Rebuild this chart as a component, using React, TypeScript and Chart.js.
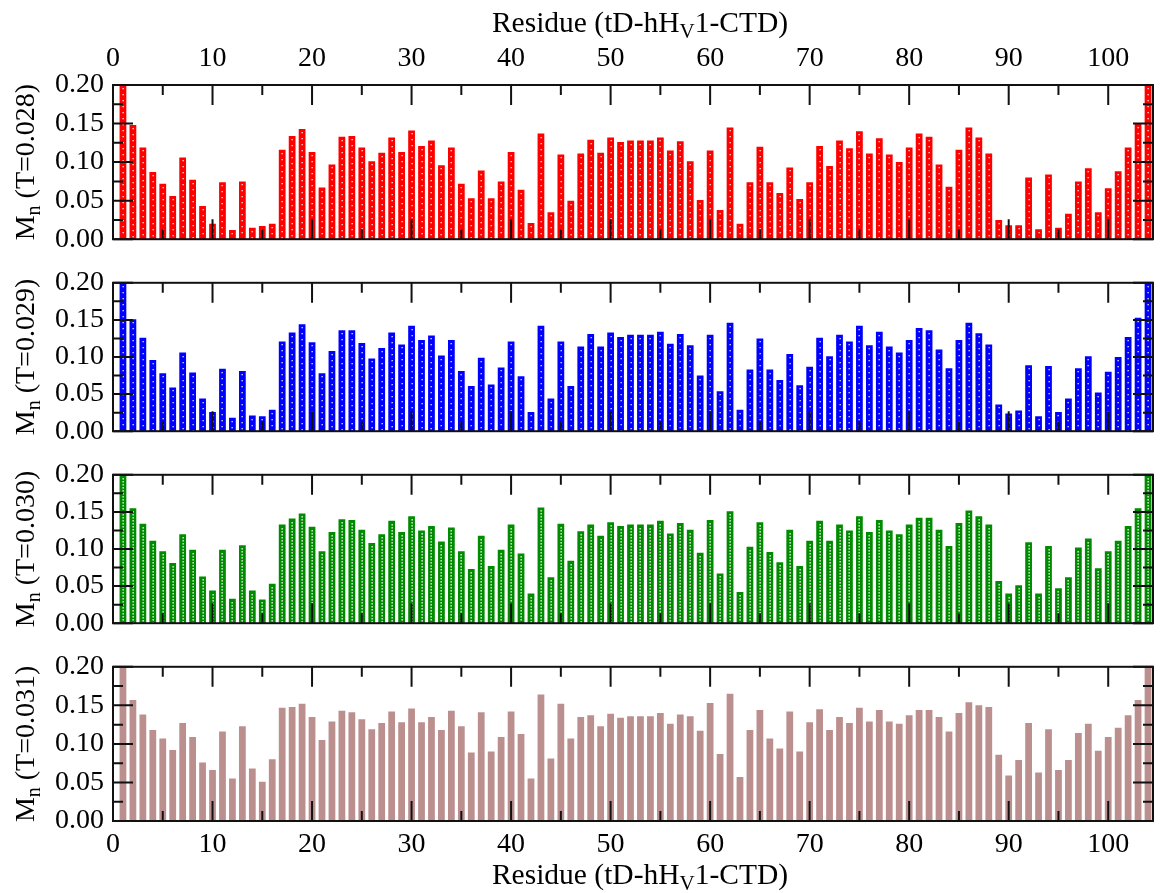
import React, { useEffect, useRef } from 'react';
import { Chart, registerables } from 'chart.js';

Chart.register(...registerables);

// ---------- data ----------
const RESIDUES = [
  1, 2, 3, 4, 5, 6, 7, 8, 9, 10, 11, 12, 13, 14, 15, 16, 17, 18, 19, 20,
  21, 22, 23, 24, 25, 26, 27, 28, 29, 30, 31, 32, 33, 34, 35, 36, 37, 38, 39, 40,
  41, 42, 43, 44, 45, 46, 47, 48, 49, 50, 51, 52, 53, 54, 55, 56, 57, 58, 59, 60,
  61, 62, 63, 64, 65, 66, 67, 68, 69, 70, 71, 72, 73, 74, 75, 76, 77, 78, 79, 80,
  81, 82, 83, 84, 85, 86, 87, 88, 89, 90, 91, 92, 93, 94, 95, 96, 97, 98, 99, 100,
  101, 102, 103, 104,
];

const MN_T028 = [
  0.200, 0.148, 0.119, 0.087, 0.072, 0.056, 0.106, 0.077, 0.043, 0.020,
  0.074, 0.012, 0.075, 0.015, 0.017, 0.020, 0.116, 0.134, 0.143, 0.113,
  0.067, 0.097, 0.133, 0.134, 0.119, 0.101, 0.112, 0.132, 0.113, 0.141,
  0.121, 0.128, 0.096, 0.119, 0.072, 0.053, 0.089, 0.053, 0.075, 0.113,
  0.064, 0.021, 0.137, 0.035, 0.110, 0.050, 0.111, 0.129, 0.112, 0.132,
  0.126, 0.128, 0.128, 0.128, 0.132, 0.115, 0.127, 0.101, 0.051, 0.115,
  0.038, 0.145, 0.020, 0.074, 0.120, 0.074, 0.060, 0.093, 0.052, 0.074,
  0.121, 0.095, 0.128, 0.118, 0.140, 0.111, 0.131, 0.110, 0.100, 0.119,
  0.137, 0.133, 0.097, 0.068, 0.116, 0.145, 0.132, 0.111, 0.025, 0.018,
  0.018, 0.080, 0.013, 0.084, 0.015, 0.033, 0.075, 0.092, 0.035, 0.066,
  0.088, 0.119, 0.150, 0.200,
];

const MN_T029 = [
  0.200, 0.151, 0.126, 0.096, 0.078, 0.059, 0.106, 0.079, 0.044, 0.026,
  0.084, 0.018, 0.081, 0.021, 0.020, 0.029, 0.121, 0.133, 0.144, 0.120,
  0.078, 0.108, 0.136, 0.136, 0.119, 0.098, 0.112, 0.133, 0.117, 0.142,
  0.123, 0.129, 0.102, 0.123, 0.081, 0.061, 0.099, 0.063, 0.086, 0.121,
  0.074, 0.026, 0.142, 0.044, 0.121, 0.061, 0.114, 0.131, 0.114, 0.133,
  0.127, 0.130, 0.130, 0.130, 0.134, 0.118, 0.131, 0.116, 0.075, 0.130,
  0.054, 0.146, 0.029, 0.083, 0.125, 0.083, 0.069, 0.104, 0.062, 0.087,
  0.126, 0.101, 0.130, 0.121, 0.142, 0.116, 0.134, 0.114, 0.106, 0.123,
  0.139, 0.136, 0.110, 0.085, 0.123, 0.146, 0.132, 0.117, 0.036, 0.024,
  0.028, 0.089, 0.020, 0.088, 0.026, 0.044, 0.085, 0.101, 0.052, 0.080,
  0.100, 0.127, 0.153, 0.200,
];

const MN_T030 = [
  0.200, 0.155, 0.134, 0.111, 0.097, 0.081, 0.120, 0.099, 0.063, 0.044,
  0.099, 0.033, 0.105, 0.044, 0.032, 0.053, 0.133, 0.141, 0.148, 0.130,
  0.097, 0.123, 0.140, 0.139, 0.126, 0.108, 0.120, 0.138, 0.123, 0.144,
  0.125, 0.131, 0.110, 0.129, 0.097, 0.073, 0.118, 0.077, 0.099, 0.133,
  0.094, 0.040, 0.156, 0.062, 0.134, 0.084, 0.124, 0.133, 0.118, 0.136,
  0.131, 0.133, 0.133, 0.133, 0.138, 0.121, 0.135, 0.126, 0.095, 0.139,
  0.067, 0.151, 0.042, 0.103, 0.136, 0.096, 0.082, 0.126, 0.077, 0.111,
  0.138, 0.111, 0.133, 0.125, 0.144, 0.123, 0.139, 0.125, 0.120, 0.133,
  0.142, 0.142, 0.126, 0.104, 0.135, 0.152, 0.144, 0.133, 0.057, 0.040,
  0.051, 0.109, 0.040, 0.104, 0.047, 0.062, 0.102, 0.114, 0.074, 0.097,
  0.111, 0.131, 0.155, 0.200,
];

const MN_T031 = [
  0.200, 0.157, 0.138, 0.118, 0.107, 0.092, 0.127, 0.109, 0.076, 0.066,
  0.116, 0.055, 0.123, 0.068, 0.051, 0.080, 0.147, 0.148, 0.152, 0.135,
  0.105, 0.129, 0.143, 0.141, 0.132, 0.119, 0.127, 0.142, 0.128, 0.146,
  0.128, 0.135, 0.118, 0.143, 0.123, 0.089, 0.141, 0.090, 0.109, 0.142,
  0.113, 0.055, 0.164, 0.081, 0.152, 0.107, 0.135, 0.137, 0.123, 0.139,
  0.134, 0.136, 0.136, 0.136, 0.140, 0.126, 0.138, 0.136, 0.117, 0.153,
  0.087, 0.165, 0.057, 0.118, 0.144, 0.107, 0.094, 0.142, 0.090, 0.128,
  0.145, 0.118, 0.135, 0.127, 0.147, 0.129, 0.144, 0.129, 0.126, 0.137,
  0.144, 0.144, 0.135, 0.116, 0.140, 0.154, 0.150, 0.148, 0.086, 0.059,
  0.079, 0.127, 0.063, 0.119, 0.066, 0.079, 0.114, 0.126, 0.091, 0.109,
  0.121, 0.137, 0.157, 0.200,
];

const TEMPERATURES = ['0.028', '0.029', '0.030', '0.031'];
const X_MIN = 0;
const X_MAX = 104.5;
const X_TICK_STEP = 10;
const Y_MIN = 0;
const Y_MAX = 0.2;
const Y_TICK_STEP = 0.05;

// ---------- styling ----------
const FONT = '"Liberation Serif", "Times New Roman", serif';
const FONT_SIZE = 28;
const TITLE_SIZE = 29.5;

type Part = { text: string; sub?: boolean };

const X_TITLE: Part[] = [
  { text: 'Residue (tD-hH' },
  { text: 'V', sub: true },
  { text: '1-CTD)' },
];

function drawRich(ctx: CanvasRenderingContext2D, parts: Part[], cx: number, cy: number, rotate: boolean, size: number) {
  const subSize = Math.round(size * 0.7);
  const widths = parts.map((p) => {
    ctx.font = `${p.sub ? subSize : size}px ${FONT}`;
    return ctx.measureText(p.text).width;
  });
  const total = widths.reduce((a, b) => a + b, 0);
  ctx.save();
  ctx.translate(cx, cy);
  if (rotate) ctx.rotate(-Math.PI / 2);
  ctx.fillStyle = '#000';
  ctx.textAlign = 'left';
  ctx.textBaseline = 'alphabetic';
  let x = -total / 2;
  const base = size * 0.33;
  parts.forEach((p, i) => {
    ctx.font = `${p.sub ? subSize : size}px ${FONT}`;
    ctx.fillText(p.text, x, p.sub ? base + size * 0.22 : base);
    x += widths[i];
  });
  ctx.restore();
}

const dotsPlugin = {
  id: 'barDots',
  afterDatasetsDraw(chart: any, _args: any, opts: any) {
    const step = opts && opts.step;
    if (!step) return;
    const { ctx, chartArea: a } = chart;
    const meta = chart.getDatasetMeta(0);
    ctx.save();
    ctx.beginPath();
    ctx.rect(a.left, a.top, a.right - a.left, a.bottom - a.top);
    ctx.clip();
    ctx.fillStyle = 'rgba(255,255,255,0.9)';
    meta.data.forEach((el: any) => {
      const { x, y, base } = el.getProps(['x', 'y', 'base'], true);
      const cx = Math.round(x) - 0.5;
      for (let yy = y + 3; yy < base - 1; yy += step) {
        ctx.fillRect(cx, Math.round(yy), 1.3, opts.dotH || 1.3);
      }
    });
    ctx.restore();
  },
};

const framePlugin = {
  id: 'graceFrame',
  afterDatasetsDraw(chart: any) {
    const { ctx, chartArea: a, scales } = chart;
    const xs = scales.x;
    const ys = scales.y;
    ctx.save();
    ctx.strokeStyle = '#111';
    ctx.lineWidth = 2;
    ctx.beginPath();
    for (let i = 0; i <= 8; i++) {
      const v = i * (Y_TICK_STEP / 2);
      const py = ys.getPixelForValue(v);
      const len = i % 2 === 0 ? 20 : 10;
      ctx.moveTo(a.left, py);
      ctx.lineTo(a.left + len, py);
      ctx.moveTo(a.right - len, py);
      ctx.lineTo(a.right, py);
    }
    for (let i = 0; i * (X_TICK_STEP / 2) <= X_MAX; i++) {
      const v = i * (X_TICK_STEP / 2);
      const px = xs.getPixelForValue(v);
      const len = i % 2 === 0 ? 20 : 10;
      ctx.moveTo(px, a.bottom);
      ctx.lineTo(px, a.bottom - len);
      ctx.moveTo(px, a.top);
      ctx.lineTo(px, a.top + len);
    }
    ctx.stroke();
    ctx.strokeRect(a.left, a.top, a.right - a.left, a.bottom - a.top);
    ctx.restore();
  },
};

const titlePlugin = {
  id: 'richTitles',
  afterDraw(chart: any, _args: any, opts: any) {
    const { ctx, chartArea: a } = chart;
    if (opts.yParts) {
      drawRich(ctx, opts.yParts, 25, (a.top + a.bottom) / 2, true, FONT_SIZE);
    }
    if (opts.xParts) {
      drawRich(ctx, opts.xParts, (a.left + a.right) / 2 + 7, opts.xY, false, TITLE_SIZE);
    }
  },
};

type PanelCfg = {
  values: number[];
  temp: string;
  color: string;
  dotStep: number;
  dotH: number;
  top: number;
  height: number;
  padTop: number;
  padBottom: number;
  axis: 'top' | 'bottom' | null;
  titleY: number | null;
};

const PANELS: PanelCfg[] = [
  { values: MN_T028, temp: TEMPERATURES[0], color: '#ff0000', dotStep: 6, dotH: 1.3, top: 0, height: 265, padTop: 0, padBottom: 20, axis: 'top', titleY: 22 },
  { values: MN_T029, temp: TEMPERATURES[1], color: '#0000ff', dotStep: 6, dotH: 1.3, top: 257, height: 200, padTop: 20, padBottom: 20, axis: null, titleY: null },
  { values: MN_T030, temp: TEMPERATURES[2], color: '#008b00', dotStep: 3, dotH: 1.6, top: 449, height: 200, padTop: 20, padBottom: 20, axis: null, titleY: null },
  { values: MN_T031, temp: TEMPERATURES[3], color: '#bc8f8f', dotStep: 0, dotH: 0, top: 641, height: 252, padTop: 20, padBottom: 0, axis: 'bottom', titleY: 874 - 641 },
];

function Panel({ cfg }: { cfg: PanelCfg }) {
  const ref = useRef<HTMLCanvasElement | null>(null);
  useEffect(() => {
    if (!ref.current) return;
    const axisHeight = cfg.axis === 'top' ? 85 : cfg.axis === 'bottom' ? 72 : 0;
    const chart = new Chart(ref.current, {
      type: 'bar',
      data: {
        datasets: [
          {
            data: RESIDUES.map((r, i) => ({ x: r, y: cfg.values[i] })),
            backgroundColor: cfg.color,
            borderWidth: 0,
            barPercentage: 0.68,
            categoryPercentage: 1,
          } as any,
        ],
      },
      options: {
        responsive: false,
        animation: false,
        events: [],
        layout: { padding: { top: cfg.padTop, bottom: cfg.padBottom, left: 0, right: 7 } },
        plugins: {
          legend: { display: false },
          tooltip: { enabled: false },
          barDots: { step: cfg.dotStep, dotH: cfg.dotH },
          richTitles: {
            yParts: [{ text: 'M' }, { text: 'n', sub: true }, { text: ' (T=' + cfg.temp + ')' }],
            xParts: cfg.titleY !== null ? X_TITLE : null,
            xY: cfg.titleY,
          },
        } as any,
        scales: {
          x: {
            type: 'linear',
            min: X_MIN,
            max: X_MAX,
            offset: false,
            position: cfg.axis || 'bottom',
            display: cfg.axis !== null,
            grid: { display: false, drawTicks: false },
            border: { display: false },
            ticks: {
              stepSize: X_TICK_STEP,
              includeBounds: false,
              autoSkip: false,
              maxRotation: 0,
              color: '#000',
              font: { family: FONT, size: FONT_SIZE },
              padding: cfg.axis === 'top' ? 10 : 7,
            },
            afterFit: (s: any) => {
              s.height = axisHeight;
            },
          } as any,
          y: {
            min: Y_MIN,
            max: Y_MAX,
            grid: { display: false, drawTicks: false },
            border: { display: false },
            ticks: {
              stepSize: Y_TICK_STEP,
              color: '#000',
              font: { family: FONT, size: FONT_SIZE },
              padding: 9,
              callback: (v: any) => Number(v).toFixed(2),
            },
            afterFit: (s: any) => {
              s.width = 113;
            },
          } as any,
        },
      },
      plugins: [dotsPlugin, framePlugin, titlePlugin],
    });
    return () => chart.destroy();
  }, [cfg]);
  return (
    <canvas
      ref={ref}
      width={1160}
      height={cfg.height}
      style={{ position: 'absolute', left: 0, top: cfg.top, width: 1160, height: cfg.height }}
    />
  );
}

export default function App() {
  return (
    <div style={{ position: 'absolute', left: 0, top: 0, width: 1160, height: 893, background: '#fff' }}>
      {PANELS.map((p) => (
        <Panel key={p.temp} cfg={p} />
      ))}
    </div>
  );
}
